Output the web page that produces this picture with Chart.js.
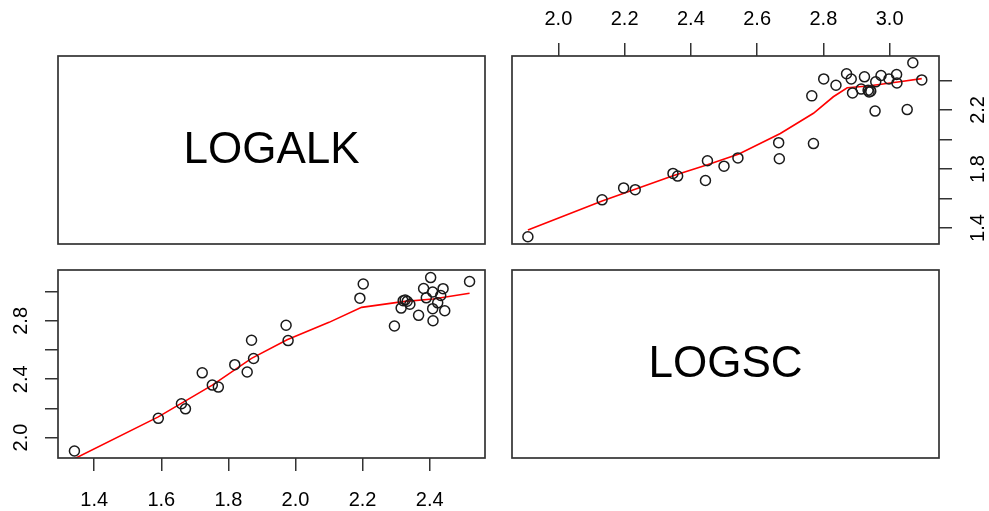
<!DOCTYPE html>
<html>
<head>
<meta charset="utf-8">
<script src="https://cdn.jsdelivr.net/npm/chart.js@4"></script>
<style>
  html, body { margin: 0; padding: 0; background: #fff; }
  #wrap { position: relative; width: 989px; height: 511px; }
  #wrap canvas { position: absolute; left: 0; top: 0; }
</style>
</head>
<body>
<div id="wrap">
  <canvas id="p-alk" width="989" height="511"></canvas>
  <canvas id="p-sc-alk" width="989" height="511"></canvas>
  <canvas id="p-alk-sc" width="989" height="511"></canvas>
  <canvas id="p-sc" width="989" height="511"></canvas>
</div>
<script>
// variable names shown on the diagonal
var varNames = ['LOGALK', 'LOGSC'];

// observations (paired by index)
var logalk = [1.341, 1.591, 1.660, 1.672, 1.722, 1.752, 1.770, 1.819, 1.856, 1.869, 1.875,
  1.972, 1.978, 2.192, 2.202, 2.295, 2.315, 2.321, 2.327, 2.333, 2.341, 2.367,
  2.382, 2.390, 2.403, 2.409, 2.409, 2.410, 2.424, 2.433, 2.440, 2.445, 2.519];
var logsc = [1.908, 2.132, 2.232, 2.197, 2.444, 2.360, 2.346, 2.500, 2.450, 2.667, 2.542,
  2.770, 2.665, 2.956, 3.053, 2.765, 2.888, 2.938, 2.943, 2.935, 2.914, 2.838,
  3.022, 2.958, 3.097, 2.998, 2.884, 2.801, 2.924, 2.974, 3.021, 2.870, 3.070];

// smoother
var smoothAlkX = [1.341, 1.591, 1.752, 1.869, 1.975, 2.100, 2.197, 2.320, 2.410, 2.519];
var smoothAlkY = [1.855, 2.142, 2.360, 2.543, 2.671, 2.790, 2.893, 2.932, 2.950, 2.990];
var smoothScX = [1.908, 2.132, 2.346, 2.450, 2.545, 2.670, 2.770, 2.830, 2.872, 2.935, 3.030, 3.097];
var smoothScY = [1.387, 1.583, 1.754, 1.828, 1.901, 2.040, 2.177, 2.289, 2.350, 2.362, 2.391, 2.412];

// ticks
var alkTickValues = [1.4, 1.6, 1.8, 2.0, 2.2, 2.4];
var alkTickLabels = ['1.4', '1.6', '1.8', '2.0', '2.2', '2.4'];
var alkSideLabels = ['1.4', '', '1.8', '', '2.2', ''];
var scTickValues = [2.0, 2.2, 2.4, 2.6, 2.8, 3.0];
var scTickLabels = ['2.0', '2.2', '2.4', '2.6', '2.8', '3.0'];
var scSideLabels = ['2.0', '', '2.4', '', '2.8', ''];

var alkRange = { min: 1.292, max: 2.565 };
var scRange = { min: 1.860, max: 3.149 };

Chart.defaults.font.family = '"Liberation Sans", Arial, Helvetica, sans-serif';
Chart.defaults.color = '#000';

var framePlugin = {
  id: 'frame',
  afterDraw: function (chart) {
    var a = chart.chartArea;
    var ctx = chart.ctx;
    ctx.save();
    ctx.strokeStyle = '#333';
    ctx.lineWidth = 1.7;
    ctx.strokeRect(a.left, a.top, a.right - a.left, a.bottom - a.top);
    var label = chart.options.plugins.frame && chart.options.plugins.frame.label;
    if (label) {
      ctx.fillStyle = '#000';
      ctx.font = '44px "Liberation Sans", Arial, sans-serif';
      ctx.textAlign = 'center';
      ctx.textBaseline = 'middle';
      ctx.fillText(label, (a.left + a.right) / 2, (a.top + a.bottom) / 2 + 1);
    }
    ctx.restore();
  },
};

function pairs(xs, ys) {
  return xs.map(function (x, i) {
    return { x: x, y: ys[i] };
  });
}

function axis(position, range, values, labels, size, pad) {
  var vertical = position === 'left' || position === 'right';
  return {
    type: 'linear',
    position: position,
    min: range.min,
    max: range.max,
    border: { display: false },
    grid: {
      drawOnChartArea: false,
      drawTicks: true,
      tickLength: 13,
      color: '#333',
      lineWidth: 1.5,
    },
    ticks: {
      autoSkip: false,
      includeBounds: false,
      padding: pad,
      font: { size: 20 },
      color: '#000',
      minRotation: vertical ? 90 : 0,
      maxRotation: vertical ? 90 : 0,
      crossAlign: vertical ? 'center' : 'near',
      callback: function (v, i) {
        return labels[i];
      },
    },
    afterBuildTicks: function (scale) {
      scale.ticks = values.map(function (v) {
        return { value: v };
      });
    },
    afterFit: function (scale) {
      if (vertical) {
        scale.width = size;
      } else {
        scale.height = size;
      }
    },
  };
}

function scatterPanel(id, pts, line, pad, xAxis, yAxis) {
  new Chart(document.getElementById(id), {
    data: {
      datasets: [
        {
          type: 'scatter',
          data: pts,
          pointStyle: 'circle',
          pointRadius: 5,
          borderColor: '#1a1a1a',
          backgroundColor: 'rgba(0,0,0,0)',
          borderWidth: 1.5,
        },
        {
          type: 'line',
          data: line,
          borderColor: '#ff0000',
          borderWidth: 1.6,
          pointRadius: 0,
          tension: 0,
          fill: false,
        },
      ],
    },
    options: {
      responsive: false,
      animation: false,
      devicePixelRatio: 1,
      layout: { padding: pad },
      plugins: { legend: { display: false }, tooltip: { enabled: false } },
      events: [],
      scales: { x: xAxis, y: yAxis },
    },
    plugins: [framePlugin],
  });
}

function labelPanel(id, label, pad) {
  new Chart(document.getElementById(id), {
    type: 'scatter',
    data: { datasets: [] },
    options: {
      responsive: false,
      animation: false,
      devicePixelRatio: 1,
      layout: { padding: pad },
      plugins: { legend: { display: false }, tooltip: { enabled: false }, frame: { label: label } },
      events: [],
      scales: { x: { display: false }, y: { display: false } },
    },
    plugins: [framePlugin],
  });
}

labelPanel('p-alk', varNames[0], { left: 58, top: 56, right: 504, bottom: 267 });
labelPanel('p-sc', varNames[1], { left: 512, top: 270, right: 50, bottom: 53 });

// top right: x = LOGSC (axis on top), y = LOGALK (axis on right)
scatterPanel('p-sc-alk', pairs(logsc, logalk), pairs(smoothScX, smoothScY),
  { left: 512, top: 0, right: 0, bottom: 267 },
  axis('top', scRange, scTickValues, scTickLabels, 56, 12),
  axis('right', alkRange, alkTickValues, alkSideLabels, 50, 13));

// bottom left: x = LOGALK (axis at bottom), y = LOGSC (axis on left)
scatterPanel('p-alk-sc', pairs(logalk, logsc), pairs(smoothAlkX, smoothAlkY),
  { left: 0, top: 270, right: 504, bottom: 0 },
  axis('bottom', alkRange, alkTickValues, alkTickLabels, 53, 17),
  axis('left', scRange, scTickValues, scSideLabels, 58, 10));
</script>
</body>
</html>
